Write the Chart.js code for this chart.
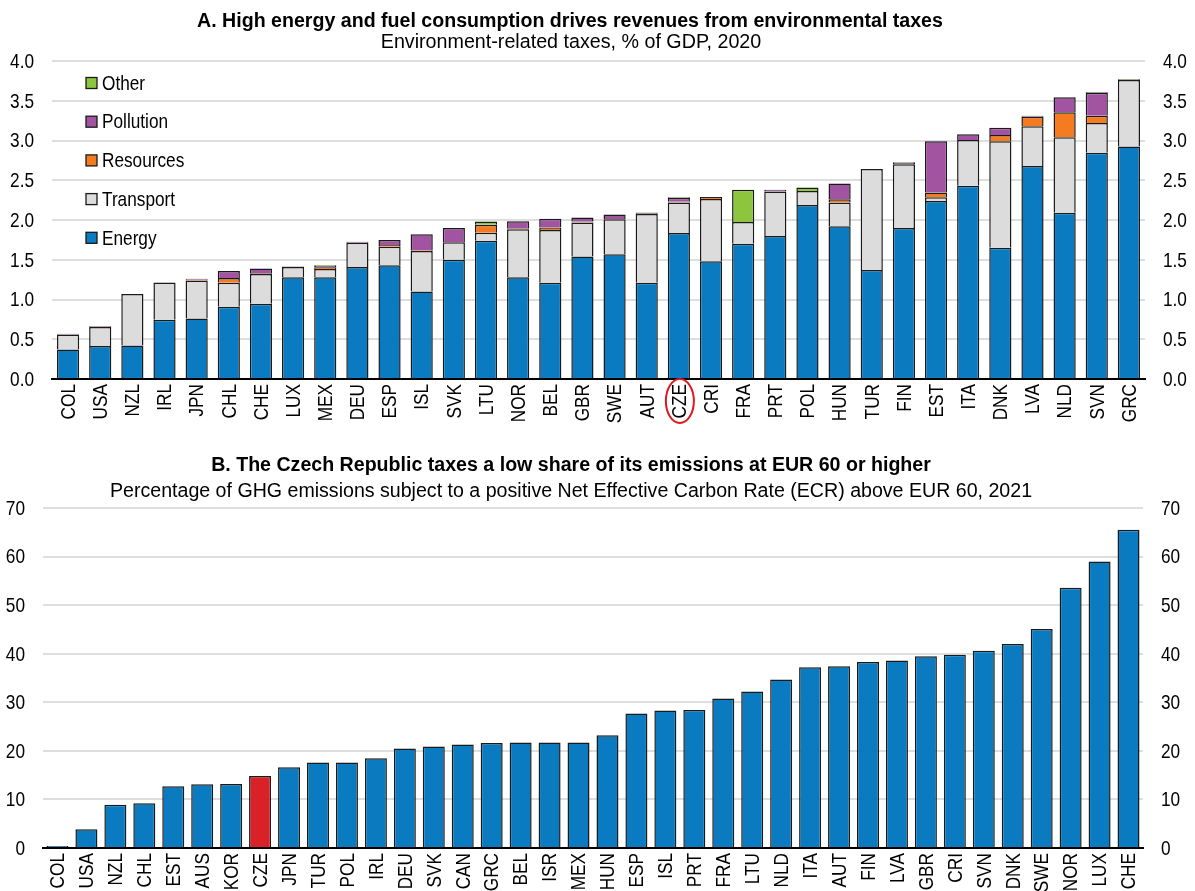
<!DOCTYPE html>
<html><head><meta charset="utf-8">
<script src="https://cdn.jsdelivr.net/npm/chart.js@4"></script>
<style>
html,body{margin:0;padding:0;background:#fff;}
#wrap{position:relative;width:1195px;height:891px;overflow:hidden;}
canvas{position:absolute;left:0;}
</style></head>
<body><div id="wrap">
<canvas id="c1" width="1195" height="445" style="top:0"></canvas>
<canvas id="c2" width="1195" height="446" style="top:445px"></canvas>
</div>
<script>
// ---------- Panel A data ----------
const categoriesA = ['COL','USA','NZL','IRL','JPN','CHL','CHE','LUX','MEX','DEU','ESP','ISL','SVK','LTU','NOR','BEL','GBR','SWE','AUT','CZE','CRI','FRA','PRT','POL','HUN','TUR','FIN','EST','ITA','DNK','LVA','NLD','SVN','GRC'];
const energyA    = [0.37,0.415,0.42,0.745,0.76,0.91,0.945,1.28,1.28,1.41,1.43,1.10,1.50,1.74,1.28,1.21,1.54,1.57,1.21,1.835,1.48,1.70,1.80,2.19,1.92,1.37,1.90,2.24,2.43,1.65,2.68,2.09,2.845,2.925];
const transportA = [0.19,0.24,0.65,0.47,0.48,0.30,0.375,0.13,0.105,0.305,0.235,0.51,0.22,0.10,0.605,0.665,0.43,0.44,0.865,0.385,0.785,0.275,0.56,0.175,0.30,1.27,0.80,0.045,0.575,1.34,0.50,0.95,0.375,0.835];
const resourcesA = [0,0,0,0,0.01,0.06,0.01,0,0.02,0,0.02,0.01,0,0.10,0.01,0.03,0.01,0,0,0.01,0.025,0,0,0,0.04,0,0,0.06,0,0.08,0.12,0.315,0.09,0];
const pollutionA = [0.01,0.01,0,0,0.01,0.09,0.06,0.005,0.02,0.01,0.065,0.20,0.18,0,0.09,0.11,0.05,0.06,0.01,0.05,0,0,0.02,0,0.20,0,0.02,0.645,0.075,0.09,0.01,0.19,0.29,0];
const otherA     = [0,0,0,0,0,0,0,0,0.01,0,0,0,0,0.04,0,0,0,0,0.01,0.01,0,0.405,0,0.045,0,0,0.01,0,0,0,0,0,0.01,0.01];
const seriesNamesA = ['Energy','Transport','Resources','Pollution','Other'];
const ticksA = [0,0.5,1.0,1.5,2.0,2.5,3.0,3.5,4.0];

// ---------- Panel B data ----------
const categoriesB = ['COL','USA','NZL','CHL','EST','AUS','KOR','CZE','JPN','TUR','POL','IRL','DEU','SVK','CAN','GRC','BEL','ISR','MEX','HUN','ESP','ISL','PRT','FRA','LTU','NLD','ITA','AUT','FIN','LVA','GBR','CRI','SVN','DNK','SWE','NOR','LUX','CHE'];
const valuesB = [0.4,3.85,8.9,9.2,12.7,13.1,13.2,14.8,16.6,17.6,17.6,18.5,20.5,20.9,21.3,21.6,21.7,21.7,21.7,23.2,27.7,28.3,28.4,30.8,32.2,34.7,37.2,37.4,38.3,38.6,39.5,39.8,40.6,42.0,45.1,53.6,59.0,65.5];
const ticksB = [0,10,20,30,40,50,60,70];
const highlightB = 'CZE';

// ---------- styles ----------
const FONT = "'Liberation Sans',Arial,sans-serif";
const NARROW = 0.82;   // horizontal squeeze to imitate a narrow face
const colors = {Energy:'#0a7bc1',Transport:'#dcdcdc',Resources:'#f47b20',Pollution:'#a254a2',Other:'#8cc63f'};
const GRID = '#dedede';
const EDGE = '#1a1a1a';

function narrowText(ctx, text, x, y, align, rot){
  ctx.save(); ctx.translate(x, y); if (rot) ctx.rotate(rot);
  ctx.scale(NARROW, 1); ctx.textAlign = align; ctx.fillText(text, 0, 0); ctx.restore();
}

function titlePlugin(id, lines){
  return {id, afterDraw(chart){
    const ctx = chart.ctx; ctx.save();
    ctx.fillStyle = '#000'; ctx.textAlign = 'center'; ctx.textBaseline = 'alphabetic';
    lines.forEach(l => { ctx.font = l.font; ctx.fillText(l.text, l.x, l.y); });
    ctx.restore();
  }};
}

// tick labels drawn from the chart's own scales, in a condensed style
function tickPlugin(ticks, fmt){
  return {id:'ticks', afterDraw(chart){
    const ctx = chart.ctx, a = chart.chartArea, ys = chart.scales.y, xs = chart.scales.x;
    ctx.save(); ctx.fillStyle = '#000'; ctx.font = '21px ' + FONT; ctx.textBaseline = 'middle';
    ys.ticks.forEach(t => {
      const y = ys.getPixelForValue(t.value), lab = fmt(t.value);
      narrowText(ctx, lab, a.left - 18, y + 1, 'right');
      narrowText(ctx, lab, a.right + 18, y + 1, 'left');
    });
    chart.data.labels.forEach((lab, i) => {
      narrowText(ctx, lab, xs.getPixelForValue(i) + 1, a.bottom + 5, 'right', -Math.PI/2);
    });
    ctx.restore();
  }};
}

const legendPlugin = {id:'legA', afterDraw(chart){
  const ctx = chart.ctx, a = chart.chartArea; ctx.save();
  const order = seriesNamesA.slice().reverse();
  ctx.font = '21px ' + FONT; ctx.textBaseline = 'middle';
  order.forEach((name,i) => {
    const y = a.top + 22 + i*38.7, x = a.left + 34;
    ctx.fillStyle = colors[name]; ctx.fillRect(x, y-5.5, 11, 11);
    ctx.strokeStyle = EDGE; ctx.lineWidth = 1.3; ctx.strokeRect(x, y-5.5, 11, 11);
    ctx.fillStyle = '#000'; narrowText(ctx, name, x + 16, y + 1, 'left');
  });
  ctx.restore();
}};

const circlePlugin = {id:'circ', afterDraw(chart){
  const xs = chart.scales.x, ctx = chart.ctx;
  const cx = xs.getPixelForValue(categoriesA.indexOf('CZE'));
  ctx.save(); ctx.strokeStyle = '#e0191e'; ctx.lineWidth = 2;
  ctx.beginPath(); ctx.ellipse(cx + 1, chart.chartArea.bottom + 22, 14, 22, 0, 0, Math.PI*2); ctx.stroke();
  ctx.restore();
}};

function yAxis(min, max, tickList, pos, width, grid){
  return {
    position: pos, min, max,
    afterBuildTicks(s){ s.ticks = tickList.map(v => ({value:v})); },
    ticks:{display:false},
    grid: grid ? {color:GRID, lineWidth:2, drawTicks:false} : {display:false, drawTicks:false},
    border:{display:false},
    afterFit(s){ s.width = width; }
  };
}

const dsA = [energyA,transportA,resourcesA,pollutionA,otherA].map((d,i)=>({
  label: seriesNamesA[i], data: d, backgroundColor: colors[seriesNamesA[i]],
  borderColor:EDGE, borderWidth:1.5, barPercentage:0.69, categoryPercentage:1, stack:'s'
}));

new Chart(document.getElementById('c1'), {
  type:'bar',
  data:{labels:categoriesA, datasets:dsA},
  options:{
    responsive:false, animation:false,
    layout:{padding:{top:61,left:0,right:0,bottom:0}},
    plugins:{legend:{display:false}, tooltip:{enabled:false}, title:{display:false}},
    scales:{
      x:{stacked:true, grid:{display:false}, border:{color:'#000',width:2},
         ticks:{display:false, autoSkip:false}, afterFit(s){ s.height = 66; }},
      y:Object.assign(yAxis(0,4,ticksA,'left',52,true),{stacked:true}),
      y2:yAxis(0,4,ticksA,'right',50,false)
    }
  },
  plugins:[titlePlugin('tA',[
    {text:'A. High energy and fuel consumption drives revenues from environmental taxes', font:'bold 19.6px '+FONT, x:570, y:27},
    {text:'Environment-related taxes, % of GDP, 2020', font:'19.7px '+FONT, x:571, y:48}
  ]), tickPlugin(ticksA, v => v.toFixed(1)), legendPlugin, circlePlugin]
});

new Chart(document.getElementById('c2'), {
  type:'bar',
  data:{labels:categoriesB, datasets:[{
    label:'ECR', data:valuesB,
    backgroundColor: categoriesB.map(c => c===highlightB ? '#da2128' : '#0a7bc1'),
    borderColor:EDGE, borderWidth:1.5, barPercentage:0.76, categoryPercentage:1
  }]},
  options:{
    responsive:false, animation:false,
    layout:{padding:{top:63,left:0,right:0,bottom:0}},
    plugins:{legend:{display:false}, tooltip:{enabled:false}, title:{display:false}},
    scales:{
      x:{grid:{display:false}, border:{color:'#000',width:2},
         ticks:{display:false, autoSkip:false}, afterFit(s){ s.height = 43; }},
      y:yAxis(0,70,ticksB,'left',43,true),
      y2:yAxis(0,70,ticksB,'right',52,false)
    }
  },
  plugins:[titlePlugin('tB',[
    {text:'B. The Czech Republic taxes a low share of its emissions at EUR 60 or higher', font:'bold 19.6px '+FONT, x:571, y:26},
    {text:'Percentage of GHG emissions subject to a positive Net Effective Carbon Rate (ECR) above EUR 60, 2021', font:'19.6px '+FONT, x:571, y:52}
  ]), tickPlugin(ticksB, v => String(v))]
});
</script>
</body></html>
